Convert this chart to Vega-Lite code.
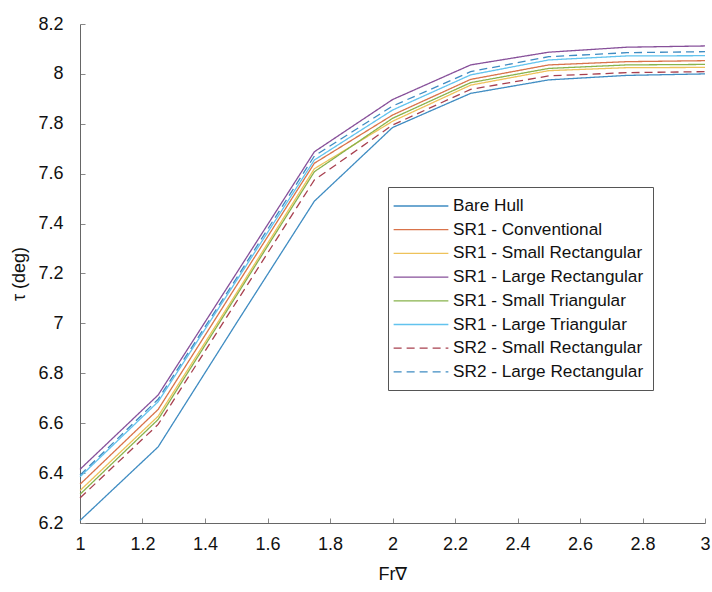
{
  "$schema": "https://vega.github.io/schema/vega-lite/v6.json",
  "width": 625,
  "height": 499,
  "autosize": {"type": "none"},
  "padding": {"left": 80, "top": 24, "right": 7, "bottom": 69},
  "background": "white",
  "config": {
    "view": {"stroke": null},
    "font": "Liberation Sans"
  },
  "data": {
    "values": [
      {"series": "Bare Hull", "fr": 1, "tau": 6.21},
      {"series": "Bare Hull", "fr": 1.25, "tau": 6.505},
      {"series": "Bare Hull", "fr": 1.5, "tau": 7.0},
      {"series": "Bare Hull", "fr": 1.75, "tau": 7.49},
      {"series": "Bare Hull", "fr": 2, "tau": 7.785},
      {"series": "Bare Hull", "fr": 2.25, "tau": 7.922},
      {"series": "Bare Hull", "fr": 2.5, "tau": 7.976},
      {"series": "Bare Hull", "fr": 2.75, "tau": 7.994},
      {"series": "Bare Hull", "fr": 3, "tau": 8.0},
      {"series": "SR1 - Conventional", "fr": 1, "tau": 6.355},
      {"series": "SR1 - Conventional", "fr": 1.25, "tau": 6.655},
      {"series": "SR1 - Conventional", "fr": 1.5, "tau": 7.15},
      {"series": "SR1 - Conventional", "fr": 1.75, "tau": 7.642},
      {"series": "SR1 - Conventional", "fr": 2, "tau": 7.835},
      {"series": "SR1 - Conventional", "fr": 2.25, "tau": 7.978},
      {"series": "SR1 - Conventional", "fr": 2.5, "tau": 8.036},
      {"series": "SR1 - Conventional", "fr": 2.75, "tau": 8.049},
      {"series": "SR1 - Conventional", "fr": 3, "tau": 8.053},
      {"series": "SR1 - Small Rectangular", "fr": 1, "tau": 6.33},
      {"series": "SR1 - Small Rectangular", "fr": 1.25, "tau": 6.628},
      {"series": "SR1 - Small Rectangular", "fr": 1.5, "tau": 7.12},
      {"series": "SR1 - Small Rectangular", "fr": 1.75, "tau": 7.62},
      {"series": "SR1 - Small Rectangular", "fr": 2, "tau": 7.81},
      {"series": "SR1 - Small Rectangular", "fr": 2.25, "tau": 7.955},
      {"series": "SR1 - Small Rectangular", "fr": 2.5, "tau": 8.013},
      {"series": "SR1 - Small Rectangular", "fr": 2.75, "tau": 8.025},
      {"series": "SR1 - Small Rectangular", "fr": 3, "tau": 8.026},
      {"series": "SR1 - Large Rectangular", "fr": 1, "tau": 6.415},
      {"series": "SR1 - Large Rectangular", "fr": 1.25, "tau": 6.713},
      {"series": "SR1 - Large Rectangular", "fr": 1.5, "tau": 7.2},
      {"series": "SR1 - Large Rectangular", "fr": 1.75, "tau": 7.688},
      {"series": "SR1 - Large Rectangular", "fr": 2, "tau": 7.897},
      {"series": "SR1 - Large Rectangular", "fr": 2.25, "tau": 8.036},
      {"series": "SR1 - Large Rectangular", "fr": 2.5, "tau": 8.087},
      {"series": "SR1 - Large Rectangular", "fr": 2.75, "tau": 8.107},
      {"series": "SR1 - Large Rectangular", "fr": 3, "tau": 8.112},
      {"series": "SR1 - Small Triangular", "fr": 1, "tau": 6.315},
      {"series": "SR1 - Small Triangular", "fr": 1.25, "tau": 6.615},
      {"series": "SR1 - Small Triangular", "fr": 1.5, "tau": 7.11},
      {"series": "SR1 - Small Triangular", "fr": 1.75, "tau": 7.608},
      {"series": "SR1 - Small Triangular", "fr": 2, "tau": 7.822},
      {"series": "SR1 - Small Triangular", "fr": 2.25, "tau": 7.965},
      {"series": "SR1 - Small Triangular", "fr": 2.5, "tau": 8.022},
      {"series": "SR1 - Small Triangular", "fr": 2.75, "tau": 8.036},
      {"series": "SR1 - Small Triangular", "fr": 3, "tau": 8.038},
      {"series": "SR1 - Large Triangular", "fr": 1, "tau": 6.385},
      {"series": "SR1 - Large Triangular", "fr": 1.25, "tau": 6.686},
      {"series": "SR1 - Large Triangular", "fr": 1.5, "tau": 7.17},
      {"series": "SR1 - Large Triangular", "fr": 1.75, "tau": 7.655},
      {"series": "SR1 - Large Triangular", "fr": 2, "tau": 7.855},
      {"series": "SR1 - Large Triangular", "fr": 2.25, "tau": 7.996},
      {"series": "SR1 - Large Triangular", "fr": 2.5, "tau": 8.056},
      {"series": "SR1 - Large Triangular", "fr": 2.75, "tau": 8.072},
      {"series": "SR1 - Large Triangular", "fr": 3, "tau": 8.073},
      {"series": "SR2 - Small Rectangular", "fr": 1, "tau": 6.3},
      {"series": "SR2 - Small Rectangular", "fr": 1.25, "tau": 6.595},
      {"series": "SR2 - Small Rectangular", "fr": 1.5, "tau": 7.085},
      {"series": "SR2 - Small Rectangular", "fr": 1.75, "tau": 7.575},
      {"series": "SR2 - Small Rectangular", "fr": 2, "tau": 7.795},
      {"series": "SR2 - Small Rectangular", "fr": 2.25, "tau": 7.938},
      {"series": "SR2 - Small Rectangular", "fr": 2.5, "tau": 7.992},
      {"series": "SR2 - Small Rectangular", "fr": 2.75, "tau": 8.005},
      {"series": "SR2 - Small Rectangular", "fr": 3, "tau": 8.009},
      {"series": "SR2 - Large Rectangular", "fr": 1, "tau": 6.392},
      {"series": "SR2 - Large Rectangular", "fr": 1.25, "tau": 6.696},
      {"series": "SR2 - Large Rectangular", "fr": 1.5, "tau": 7.18},
      {"series": "SR2 - Large Rectangular", "fr": 1.75, "tau": 7.671},
      {"series": "SR2 - Large Rectangular", "fr": 2, "tau": 7.871},
      {"series": "SR2 - Large Rectangular", "fr": 2.25, "tau": 8.009},
      {"series": "SR2 - Large Rectangular", "fr": 2.5, "tau": 8.069},
      {"series": "SR2 - Large Rectangular", "fr": 2.75, "tau": 8.085},
      {"series": "SR2 - Large Rectangular", "fr": 3, "tau": 8.089}
    ]
  },
  "mark": {"type": "line", "strokeWidth": 1.3},
  "encoding": {
    "x": {
      "field": "fr", "type": "quantitative",
      "scale": {"domain": [1, 3], "nice": false, "zero": false},
      "axis": {
        "values": [1, 1.2, 1.4, 1.6, 1.8, 2, 2.2, 2.4, 2.6, 2.8, 3],
        "format": "~g",
        "title": "Fr∇", "grid": false,
        "domainColor": "#666", "tickColor": "#888", "tickSize": -5,
        "labelPadding": 17, "labelFontSize": 18, "labelColor": "#111",
        "titleFontSize": 18, "titleFontWeight": "normal", "titleColor": "#111",
        "titlePadding": 12, "labelFlush": false
      }
    },
    "y": {
      "field": "tau", "type": "quantitative",
      "scale": {"domain": [6.2, 8.2], "nice": false, "zero": false},
      "axis": {
        "values": [6.2, 6.4, 6.6, 6.8, 7, 7.2, 7.4, 7.6, 7.8, 8, 8.2],
        "format": "~g",
        "title": "τ (deg)", "grid": false,
        "domainColor": "#666", "tickColor": "#888", "tickSize": -5,
        "labelPadding": 22, "labelFontSize": 18, "labelColor": "#111",
        "titleFontSize": 18, "titleFontWeight": "normal", "titleColor": "#111",
        "titlePadding": 9, "labelFlush": false
      }
    },
    "color": {
      "field": "series", "type": "nominal",
      "scale": {
        "domain": ["Bare Hull", "SR1 - Conventional", "SR1 - Small Rectangular", "SR1 - Large Rectangular", "SR1 - Small Triangular", "SR1 - Large Triangular", "SR2 - Small Rectangular", "SR2 - Large Rectangular"],
        "range": ["#3f8cc2", "#d9734a", "#eec25a", "#87509a", "#88b34c", "#62c3ee", "#a8404f", "#3f8cc2"]
      },
      "legend": {
        "title": null, "orient": "none", "legendX": 308, "legendY": 163,
        "symbolType": "M-3,0H3", "symbolSize": 333, "symbolStrokeWidth": 1.3,
        "symbolOffset": 14, "labelOffset": 22,
        "labelFontSize": 17.2, "labelColor": "#111",
        "rowPadding": 4.7, "padding": 9, "strokeColor": "#555", "fillColor": "white",
        "labelLimit": 300
      }
    },
    "strokeDash": {
      "field": "series", "type": "nominal",
      "scale": {
        "domain": ["Bare Hull", "SR1 - Conventional", "SR1 - Small Rectangular", "SR1 - Large Rectangular", "SR1 - Small Triangular", "SR1 - Large Triangular", "SR2 - Small Rectangular", "SR2 - Large Rectangular"],
        "range": [[1, 0], [1, 0], [1, 0], [1, 0], [1, 0], [1, 0], [8, 5], [8, 5]]
      },
      "legend": {
        "title": null, "orient": "none", "legendX": 308, "legendY": 163,
        "symbolType": "M-3,0H3", "symbolSize": 333, "symbolStrokeWidth": 1.3,
        "symbolOffset": 14, "labelOffset": 22,
        "labelFontSize": 17.2, "labelColor": "#111",
        "rowPadding": 4.7, "padding": 9, "strokeColor": "#555", "fillColor": "white",
        "labelLimit": 300
      }
    }
  }
}
